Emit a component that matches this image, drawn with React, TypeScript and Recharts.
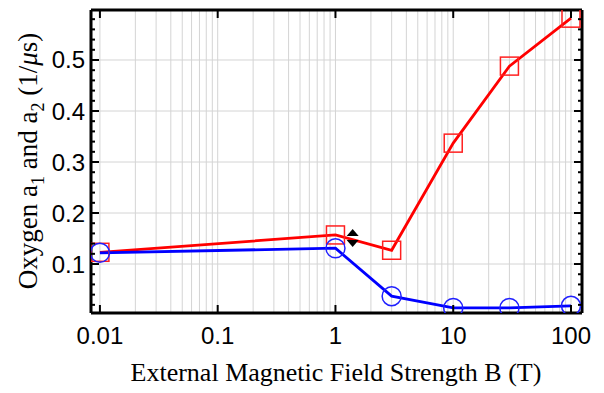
import { ComposedChart, Line, Scatter, XAxis, YAxis, ReferenceLine, Label } from "recharts";

// field strengths B (T)
const fieldB = [0.01, 1, 3, 10, 30, 100];
// a1 (red squares) and a2 (blue circles), 1/us
const a1Values = [0.123, 0.157, 0.127, 0.337, 0.488, 0.582];
const a2Values = [0.122, 0.131, 0.037, 0.014, 0.014, 0.018];
// the black double-triangle marker
const markB = [1.4];
const markValue = [0.151];

const xTicks = [0.01, 0.1, 1, 10, 100];
const xTickLabels = ["0.01", "0.1", "1", "10", "100"];
const yTicks = [0.1, 0.2, 0.3, 0.4, 0.5];
const yTickLabels = ["0.1", "0.2", "0.3", "0.4", "0.5"];
const yMinorTicks = [
  0.02, 0.04, 0.06, 0.08, 0.1, 0.12, 0.14, 0.16, 0.18, 0.2, 0.22, 0.24, 0.26, 0.28, 0.3,
  0.32, 0.34, 0.36, 0.38, 0.4, 0.42, 0.44, 0.46, 0.48, 0.5, 0.52, 0.54, 0.56, 0.58,
];
const xGrid = [
  0.01, 0.02, 0.03, 0.04, 0.05, 0.06, 0.07, 0.08, 0.09,
  0.1, 0.2, 0.3, 0.4, 0.5, 0.6, 0.7, 0.8, 0.9,
  1, 2, 3, 4, 5, 6, 7, 8, 9,
  10, 20, 30, 40, 50, 60, 70, 80, 90, 100,
];

const a1Data = fieldB.map((b, i) => ({ b, v: a1Values[i] }));
const a2Data = fieldB.map((b, i) => ({ b, v: a2Values[i] }));
const markData = markB.map((b, i) => ({ b, v: markValue[i] }));

const X_DOMAIN = [0.0084, 124];
const Y_DOMAIN = [0.004, 0.598];
const tickFont = "'Liberation Sans', Arial, sans-serif";
const labelFont = "'Liberation Serif', 'Times New Roman', serif";

const majorIndex = (v: number) => yTicks.findIndex((t) => Math.abs(t - v) < 1e-6);

const LeftTick = (props: any) => {
  const { x, y, payload } = props;
  const i = majorIndex(payload.value);
  return (
    <g>
      <line x1={x} x2={x + (i >= 0 ? 8 : 4)} y1={y} y2={y} stroke="#000" strokeWidth={2} />
      {i >= 0 && (
        <text x={x - 6} y={y} textAnchor="end" dominantBaseline="central" fontSize={24} fontFamily={tickFont} fill="#000">
          {yTickLabels[i]}
        </text>
      )}
    </g>
  );
};

const RightTick = (props: any) => {
  const { x, y, payload } = props;
  const i = majorIndex(payload.value);
  return <line x1={x} x2={x - (i >= 0 ? 8 : 4)} y1={y} y2={y} stroke="#000" strokeWidth={2} />;
};

const BottomTick = (props: any) => {
  const { x, y, index } = props;
  return (
    <g>
      <line x1={x} x2={x} y1={y} y2={y - 8} stroke="#000" strokeWidth={2} />
      <text x={x} y={y + 31} textAnchor="middle" fontSize={24} fontFamily={tickFont} fill="#000">
        {xTickLabels[index]}
      </text>
    </g>
  );
};

const TopTick = (props: any) => {
  const { x, y } = props;
  return <line x1={x} x2={x} y1={y} y2={y + 8} stroke="#000" strokeWidth={2} />;
};

const SquareDot = (props: any) => {
  const { cx, cy } = props;
  if (cx == null || cy == null) return null;
  return <rect x={cx - 9} y={cy - 9} width={18} height={18} fill="none" stroke="#ff2020" strokeWidth={1.5} />;
};

const CircleDot = (props: any) => {
  const { cx, cy } = props;
  if (cx == null || cy == null) return null;
  return <circle cx={cx} cy={cy} r={9.5} fill="none" stroke="#2020ff" strokeWidth={1.5} />;
};

const DoubleTriangle = (props: any) => {
  const { cx, cy } = props;
  return (
    <g fill="#000">
      <polygon points={`${cx},${cy - 9} ${cx - 6},${cy - 2} ${cx + 6},${cy - 2}`} />
      <polygon points={`${cx - 6},${cy + 2} ${cx + 6},${cy + 2} ${cx},${cy + 9}`} />
    </g>
  );
};

const YTitle = () => (
  <text
    x={28}
    y={161}
    transform="rotate(-90, 28, 161)"
    textAnchor="middle"
    dominantBaseline="central"
    fontSize={27}
    fontFamily={labelFont}
    fill="#000"
  >
    Oxygen a<tspan baselineShift="sub" fontSize={18}>1</tspan> and a
    <tspan baselineShift="sub" fontSize={18}>2</tspan> (1/<tspan fontStyle="italic">μ</tspan>s)
  </text>
);

const XTitle = () => (
  <text x={336} y={381} textAnchor="middle" fontSize={26} fontFamily={labelFont} fill="#000">
    External Magnetic Field Strength B (T)
  </text>
);

export default function App() {
  return (
    <div style={{ width: 604, height: 393, background: "#fff" }}>
      <style>{"body{margin:0}"}</style>
      <ComposedChart width={604} height={393} margin={{ top: 0, right: 0, bottom: 0, left: 0 }}>
        <XAxis
          xAxisId="b"
          type="number"
          dataKey="b"
          scale="log"
          domain={X_DOMAIN}
          allowDataOverflow
          ticks={xTicks}
          interval={0}
          height={80}
          tickSize={0}
          tickMargin={0}
          tickLine={false}
          tick={<BottomTick />}
          axisLine={{ stroke: "#000", strokeWidth: 3 }}
        >
          <Label content={<XTitle />} />
        </XAxis>
        <XAxis
          xAxisId="t"
          orientation="top"
          type="number"
          dataKey="b"
          scale="log"
          domain={X_DOMAIN}
          allowDataOverflow
          ticks={xTicks}
          interval={0}
          height={10}
          tickSize={0}
          tickMargin={0}
          tickLine={false}
          tick={<TopTick />}
          axisLine={{ stroke: "#000", strokeWidth: 3 }}
        />
        <YAxis
          yAxisId="l"
          type="number"
          domain={Y_DOMAIN}
          allowDataOverflow
          ticks={yMinorTicks}
          interval={0}
          width={91}
          tickSize={0}
          tickMargin={0}
          tickLine={false}
          tick={<LeftTick />}
          axisLine={{ stroke: "#000", strokeWidth: 3 }}
        >
          <Label content={<YTitle />} />
        </YAxis>
        <YAxis
          yAxisId="r"
          orientation="right"
          type="number"
          domain={Y_DOMAIN}
          allowDataOverflow
          ticks={yMinorTicks}
          interval={0}
          width={22}
          tickSize={0}
          tickMargin={0}
          tickLine={false}
          tick={<RightTick />}
          axisLine={{ stroke: "#000", strokeWidth: 3 }}
        />
        {xGrid.map((g) => (
          <ReferenceLine key={"x" + g} xAxisId="b" yAxisId="l" x={g} stroke="#d4d4d4" strokeWidth={1} />
        ))}
        {yTicks.map((g) => (
          <ReferenceLine key={"y" + g} xAxisId="b" yAxisId="l" y={g} stroke="#d4d4d4" strokeWidth={1} />
        ))}
        <Line
          xAxisId="b"
          yAxisId="l"
          data={a1Data}
          dataKey="v"
          stroke="#ff0000"
          strokeWidth={2.8}
          dot={<SquareDot />}
          activeDot={false}
          isAnimationActive={false}
        />
        <Line
          xAxisId="b"
          yAxisId="l"
          data={a2Data}
          dataKey="v"
          stroke="#0000ff"
          strokeWidth={2.8}
          dot={<CircleDot />}
          activeDot={false}
          isAnimationActive={false}
        />
        <Scatter
          xAxisId="b"
          yAxisId="l"
          data={markData}
          dataKey="v"
          shape={<DoubleTriangle />}
          isAnimationActive={false}
        />
      </ComposedChart>
    </div>
  );
}
